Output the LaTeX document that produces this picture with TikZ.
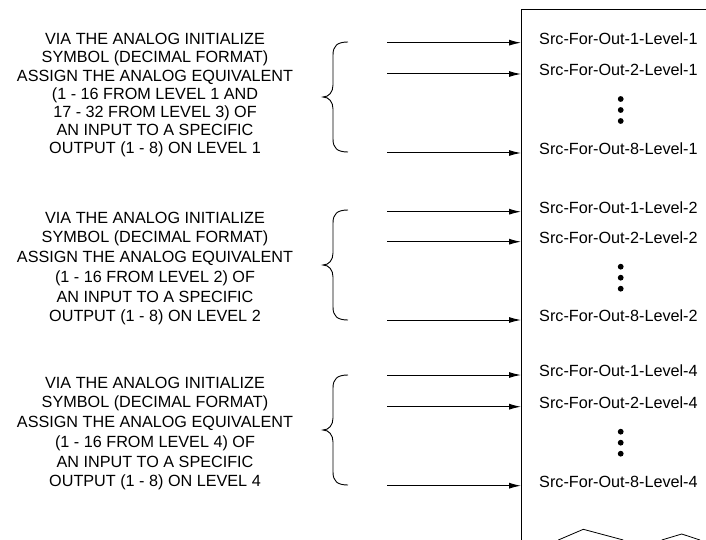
\documentclass[tikz,border=0pt]{standalone}
\usepackage{fontspec}
\setmainfont{Liberation Sans}
\usetikzlibrary{arrows.meta}
\begin{document}
\begin{tikzpicture}[x=1pt,y=-1pt,
  conn/.style={-{Latex[length=12pt,width=6pt]}, line width=1pt},
  desc/.style={align=center, inner sep=0pt, font=\fontsize{16.2}{18.2}\selectfont},
  descb/.style={desc, font=\fontsize{16.2}{19.7}\selectfont},
  src/.style={anchor=base west, inner sep=0pt, font=\fontsize{16.2}{19}\selectfont},
  dotmark/.style={circle, fill=black, inner sep=0pt, minimum size=5.8pt},
  bracestyle/.style={line width=0.9pt},
  edge/.style={line width=1pt}]
\useasboundingbox (0,0) rectangle (706,540);

% box outline (extends beyond picture)
\coordinate (boxtl) at (521,10);
\coordinate (boxtr) at (706,10);
\coordinate (boxbl) at (521,540);
\draw[edge] (boxtr) -- (boxtl) -- (boxbl);

% zigzag at bottom
\coordinate (z1) at (558.3,540);
\coordinate (z2) at (583.3,529.3);
\coordinate (z3) at (623.3,540);
\coordinate (z4) at (661.7,540);
\coordinate (z5) at (681.7,534);
\coordinate (z6) at (700,540);
\draw[line width=0.8pt] (z1) -- (z2) -- (z3);
\draw[line width=0.8pt] (z4) -- (z5) -- (z6);

% descriptions
\node[desc] (d1) at (155,95.4) {VIA THE ANALOG INITIALIZE\\SYMBOL (DECIMAL FORMAT)\\ASSIGN THE ANALOG EQUIVALENT\\(1 - 16 FROM LEVEL 1 AND\\17 - 32 FROM LEVEL 3) OF\\AN INPUT TO A SPECIFIC\\OUTPUT (1 - 8) ON LEVEL 1};
\node[descb] (d2) at (155,268.5) {VIA THE ANALOG INITIALIZE\\SYMBOL (DECIMAL FORMAT)\\ASSIGN THE ANALOG EQUIVALENT\\(1 - 16 FROM LEVEL 2) OF\\AN INPUT TO A SPECIFIC\\OUTPUT (1 - 8) ON LEVEL 2};
\node[descb] (d3) at (155,433.5) {VIA THE ANALOG INITIALIZE\\SYMBOL (DECIMAL FORMAT)\\ASSIGN THE ANALOG EQUIVALENT\\(1 - 16 FROM LEVEL 4) OF\\AN INPUT TO A SPECIFIC\\OUTPUT (1 - 8) ON LEVEL 4};

% braces
\foreach \yt/\ym/\yb in {42/97/152, 210/265/320, 375/430/485}{
  \draw[bracestyle] (348,\yt) .. controls (337,\yt) and (333,\yt+4) .. (333,\yt+13)
    -- (333,\ym-12) .. controls (333,\ym-5) and (329,\ym) .. (323,\ym)
    .. controls (329,\ym) and (333,\ym+5) .. (333,\ym+12)
    -- (333,\yb-13) .. controls (333,\yb-4) and (337,\yb) .. (348,\yb);
}

% arrows and labels
\foreach \n/\y/\txt in {a1/42.7/Src-For-Out-1-Level-1, a2/74/Src-For-Out-2-Level-1, a3/153/Src-For-Out-8-Level-1,
  b1/211.7/Src-For-Out-1-Level-2, b2/241.7/Src-For-Out-2-Level-2, b3/320/Src-For-Out-8-Level-2,
  c1/375/Src-For-Out-1-Level-4, c2/406.7/Src-For-Out-2-Level-4, c3/485.7/Src-For-Out-8-Level-4}{
  \coordinate (s\n) at (387,\y);
  \coordinate (e\n) at (521,\y);
  \draw[conn] (s\n) -- (e\n);
  \node[src] (l\n) at (539,\y+1.7) {\txt};
}

% ellipsis dots
\foreach \g/\y in {g1/74, g2/241.7, g3/406.7}{
  \node[dotmark] (\g p1) at (620.7,\y+25) {};
  \node[dotmark] (\g p2) at (620.7,\y+36) {};
  \node[dotmark] (\g p3) at (620.7,\y+47) {};
}
\end{tikzpicture}
\end{document}
